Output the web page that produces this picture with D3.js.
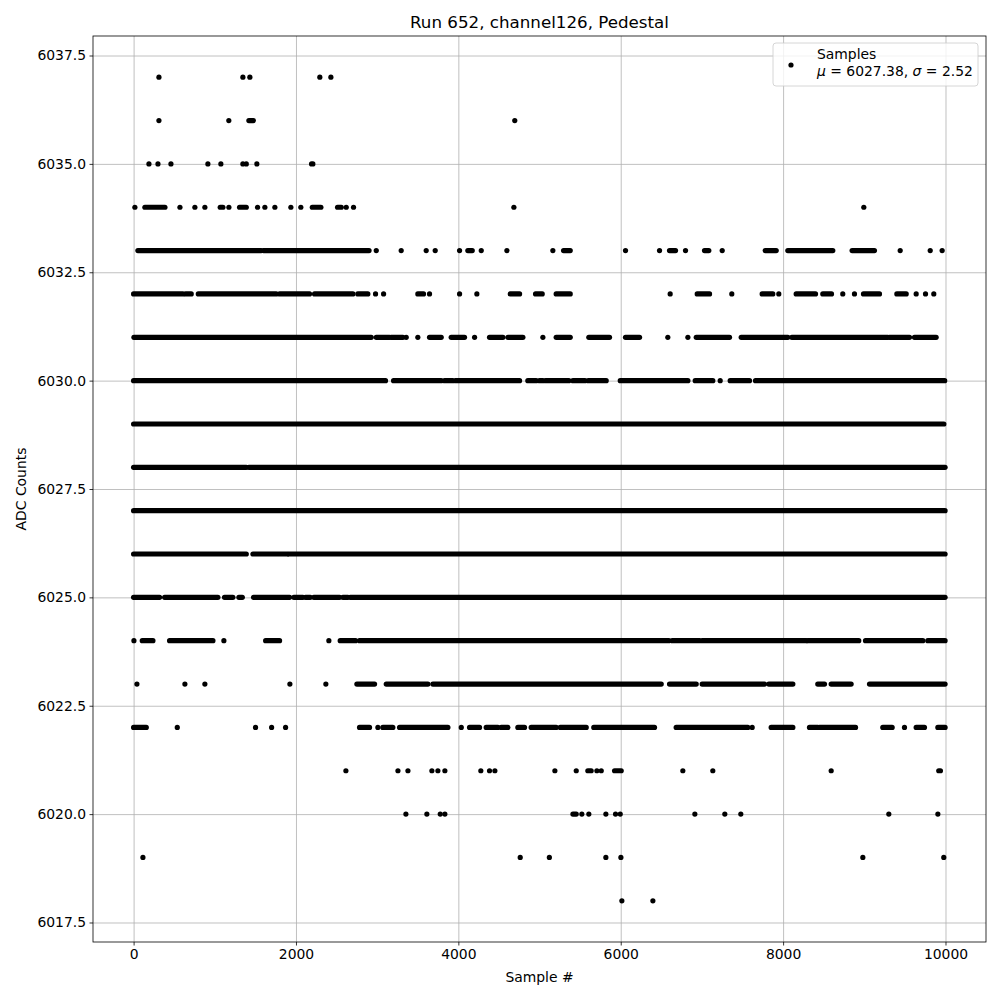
<!DOCTYPE html>
<html>
<head>
<meta charset="utf-8">
<script src="https://cdn.jsdelivr.net/npm/d3@7"></script>
<style>
  body { margin: 0; background: #fff; }
  text { font-family: "DejaVu Sans", sans-serif; fill: #000; }
</style>
</head>
<body>
<div class="chart"></div>
<script>
// ADC levels and the sample runs where each level shows up.
// [a] is a lone sample, [a, b] a stretch of samples packed so close the dots merge.
var levels = [6037, 6036, 6035, 6034, 6033, 6032, 6031, 6030, 6029, 6028,
              6027, 6026, 6025, 6024, 6023, 6022, 6021, 6020, 6019, 6018];

var runs6037 = [[312], [1346], [1432], [2294], [2430]];
var runs6036 = [[312], [1173], [1420, 1475], [4695]];
var runs6035 = [[189], [300], [460], [915], [1075], [1346], [1388], [1518], [2192, 2208]];
var runs6034 = [[16], [139, 386], [571], [755], [878], [1067, 1100], [1174], [1305, 1388],
                [1527], [1617], [1740], [1937], [2060], [2201, 2307], [2512, 2558], [2619],
                [2709], [4684], [8994]];
var runs6033 = [[53, 1572], [1601, 2900], [2989], [3296], [3604], [3715], [4015], [4117, 4171],
                [4282], [4598], [5164], [5296, 5378], [6059], [6478], [6601, 6675], [6798],
                [7032, 7085], [7250], [7780, 7915], [8058, 8612], [8850, 9125], [9442], [9812], [9959]];
var runs6032 = [[0, 607], [640, 710], [797, 1757], [1798, 2167], [2229, 2701], [2762, 2885], [2980],
                [3079], [3501, 3571], [3645], [4015], [4228], [4639, 4754], [4951, 5033], [5205, 5378],
                [6609], [6942, 7094], [7368], [7742, 7873], [7947], [8161, 8399], [8489, 8596], [8735],
                [8879], [8990, 9187], [9401, 9516], [9639], [9754], [9856]];
var runs6031 = [[4, 2927], [2989, 3153], [3173, 3317], [3358], [3501], [3645, 3789], [3912, 4076],
                [4200], [4384, 4549], [4611, 4795], [5041], [5205, 5378], [5607, 5862], [6059, 6232],
                [6580], [6827], [6930, 7340], [7484, 8058], [8107, 9289], [9310, 9557], [9618, 9885]];
var runs6030 = [[0, 3103], [3202, 3789], [3830, 3932], [3966, 4754], [4856, 4959], [5000, 5041],
                [5074, 5361], [5411, 5560], [5600, 5821], [5994, 6827], [6917, 7134], [7225],
                [7348, 7586], [7660, 9990]];
var runs6029 = [[0, 9980]];
var runs6028 = [[0, 1388], [1420, 9995]];
var runs6027 = [[0, 9995]];
var runs6026 = [[0, 1388], [1470, 1893], [1913, 9995]];
var runs6025 = [[0, 320], [382, 1038], [1120, 1223], [1297, 1339], [1478, 1921], [1974, 2085],
                [2118, 2176], [2220, 2537], [2578, 2639], [2669, 9995]];
var runs6024 = [[4], [107, 238], [443, 977], [1112], [1626, 1798], [2405], [2545, 2734],
                [2783, 6593], [6634, 6970], [7003, 8284], [8304, 8932], [9015, 9721], [9782, 9995]];
var runs6023 = [[41], [632], [878], [1925], [2368], [2750, 2968], [3112, 3625], [3686, 6499],
                [6601, 6930], [7003, 7771], [7824, 8120], [8427, 8510], [8592, 8838], [9064, 9995]];
var runs6022 = [[0, 156], [538], [1502], [1700], [1872], [2783, 2906], [3009], [3070, 3193],
                [3276, 3871], [4036], [4138, 4261], [4343, 4487], [4528, 4610], [4733, 4815],
                [4897, 5205], [5255, 5575], [5668, 6416], [6683, 7565], [7619], [7853, 8120],
                [8325, 8427], [8448, 8892], [9228, 9343], [9495], [9639, 9741], [9906, 9995]];
var runs6021 = [[2615], [3256], [3379], [3674], [3748], [3834], [4277], [4384], [4450], [5189],
                [5452], [5595, 5636], [5706], [5760], [5924, 6006], [6765], [7134], [8592], [9917, 9938]];
var runs6020 = [[3354], [3612], [3777], [3834], [5411, 5452], [5521], [5607], [5817], [5936],
                [5994], [6913], [7282], [7479], [9302], [9906]];
var runs6019 = [[115], [4762], [5121], [5817], [6002], [8982], [9979]];
var runs6018 = [[6014], [6396]];

var allRuns = [runs6037, runs6036, runs6035, runs6034, runs6033, runs6032, runs6031, runs6030,
               runs6029, runs6028, runs6027, runs6026, runs6025, runs6024, runs6023, runs6022,
               runs6021, runs6020, runs6019, runs6018];

var xTicks = [0, 2000, 4000, 6000, 8000, 10000];
var yTicks = [6017.5, 6020.0, 6022.5, 6025.0, 6027.5, 6030.0, 6032.5, 6035.0, 6037.5];

var svgWidth = 1000;
var svgHeight = 1000;
var margin = { top: 36, bottom: 58, left: 93, right: 14 };
var chartWidth = svgWidth - margin.left - margin.right;
var chartHeight = svgHeight - margin.top - margin.bottom;

var svg = d3.select(".chart")
  .append("svg")
  .attr("width", svgWidth)
  .attr("height", svgHeight);

var chartGroup = svg.append("g")
  .attr("transform", `translate(${margin.left}, ${margin.top})`);

// matplotlib style 5% padding around the data
var xScale = d3.scaleLinear().domain([-500, 10499]).range([0, chartWidth]);
var yScale = d3.scaleLinear().domain([6017.05, 6037.95]).range([chartHeight, 0]);

// grid
chartGroup.append("g")
  .attr("transform", `translate(0, ${chartHeight})`)
  .call(d3.axisBottom(xScale).tickValues(xTicks).tickSize(-chartHeight).tickFormat(""))
  .call(g => g.select(".domain").remove())
  .selectAll("line").attr("stroke", "#b0b0b0").attr("stroke-width", 0.8);

chartGroup.append("g")
  .call(d3.axisLeft(yScale).tickValues(yTicks).tickSize(-chartWidth).tickFormat(""))
  .call(g => g.select(".domain").remove())
  .selectAll("line").attr("stroke", "#b0b0b0").attr("stroke-width", 0.8);

// flatten rows into marks
var marks = [];
levels.forEach(function(v, i) {
  allRuns[i].forEach(function(r) {
    marks.push({ value: v, start: r[0], end: r.length > 1 ? r[1] : r[0] });
  });
});

var dotR = 2.6;

chartGroup.selectAll(".run")
  .data(marks.filter(d => d.end > d.start))
  .enter()
  .append("line")
  .attr("class", "run")
  .attr("x1", d => xScale(d.start))
  .attr("x2", d => xScale(d.end))
  .attr("y1", d => yScale(d.value))
  .attr("y2", d => yScale(d.value))
  .attr("stroke", "#000")
  .attr("stroke-width", dotR * 2)
  .attr("stroke-linecap", "round");

chartGroup.selectAll(".dot")
  .data(marks.filter(d => d.end === d.start))
  .enter()
  .append("circle")
  .attr("class", "dot")
  .attr("cx", d => xScale(d.start))
  .attr("cy", d => yScale(d.value))
  .attr("r", dotR)
  .attr("fill", "#000");

// axes
var xAxis = chartGroup.append("g")
  .attr("transform", `translate(0, ${chartHeight})`)
  .call(d3.axisBottom(xScale).tickValues(xTicks).tickSize(3.5).tickPadding(3.5).tickFormat(d3.format("d")));
var yAxis = chartGroup.append("g")
  .call(d3.axisLeft(yScale).tickValues(yTicks).tickSize(3.5).tickPadding(3.5).tickFormat(d3.format(".1f")));

[xAxis, yAxis].forEach(function(ax) {
  ax.select(".domain").remove();
  ax.selectAll("line").attr("stroke", "#000").attr("stroke-width", 0.8);
  ax.selectAll("text").attr("font-size", "13.9px").attr("font-family", "DejaVu Sans").attr("fill", "#000");
});

// frame
chartGroup.append("rect")
  .attr("width", chartWidth)
  .attr("height", chartHeight)
  .attr("fill", "none")
  .attr("stroke", "#000")
  .attr("stroke-width", 0.8);

// labels
svg.append("text")
  .attr("x", margin.left + chartWidth / 2)
  .attr("y", 28)
  .attr("text-anchor", "middle")
  .attr("font-size", "16.7px")
  .text("Run 652, channel126, Pedestal");

svg.append("text")
  .attr("x", margin.left + chartWidth / 2)
  .attr("y", 982)
  .attr("text-anchor", "middle")
  .attr("font-size", "13.9px")
  .text("Sample #");

svg.append("text")
  .attr("transform", `translate(26, ${margin.top + chartHeight / 2}) rotate(-90)`)
  .attr("text-anchor", "middle")
  .attr("font-size", "13.9px")
  .text("ADC Counts");

// legend
var legend = svg.append("g");
legend.append("rect")
  .attr("x", 773).attr("y", 43)
  .attr("width", 205).attr("height", 43)
  .attr("rx", 3)
  .attr("fill", "#fff").attr("fill-opacity", 0.8)
  .attr("stroke", "#cccccc").attr("stroke-width", 0.8);
legend.append("circle")
  .attr("cx", 791).attr("cy", 65).attr("r", dotR).attr("fill", "#000");
legend.append("text")
  .attr("x", 817).attr("y", 58.5)
  .attr("font-size", "13.9px")
  .text("Samples");
var stat = legend.append("text")
  .attr("x", 817).attr("y", 76)
  .attr("font-size", "13.9px");
stat.append("tspan").attr("font-style", "italic").text("μ");
stat.append("tspan").text(" = 6027.38, ");
stat.append("tspan").attr("font-style", "italic").text("σ");
stat.append("tspan").text(" = 2.52");
</script>
</body>
</html>
